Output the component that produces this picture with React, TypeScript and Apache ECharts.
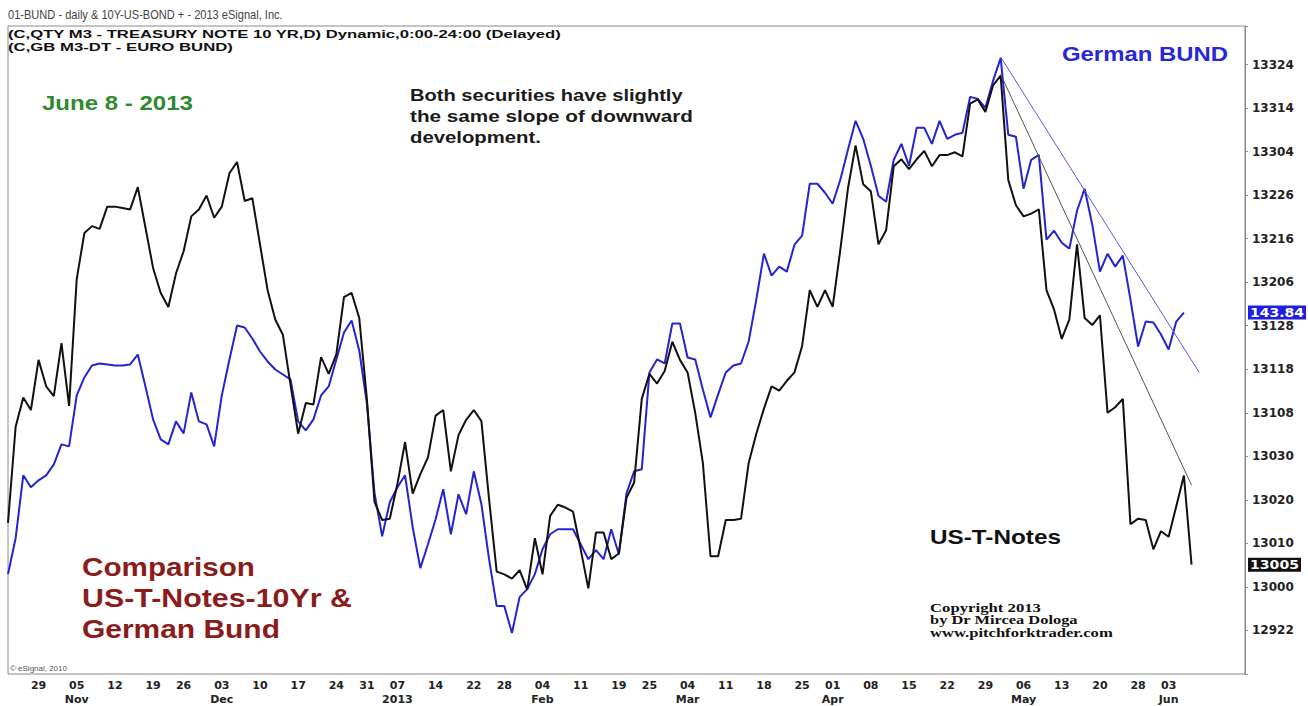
import React, { useEffect, useRef } from "react";
import * as echarts from "echarts";

// ---- categories: trading days (Oct 23 2012 .. Jun 17 2013) ----
const dates: string[] = [
  "2012-10-23","2012-10-24","2012-10-25","2012-10-26","2012-10-29","2012-10-30","2012-10-31",
  "2012-11-01","2012-11-02","2012-11-05","2012-11-06","2012-11-07","2012-11-08","2012-11-09",
  "2012-11-12","2012-11-13","2012-11-14","2012-11-15","2012-11-16","2012-11-19","2012-11-20",
  "2012-11-21","2012-11-23","2012-11-26","2012-11-27","2012-11-28","2012-11-29","2012-11-30",
  "2012-12-03","2012-12-04","2012-12-05","2012-12-06","2012-12-07","2012-12-10","2012-12-11",
  "2012-12-12","2012-12-13","2012-12-14","2012-12-17","2012-12-18","2012-12-19","2012-12-20",
  "2012-12-21","2012-12-24","2012-12-26","2012-12-27","2012-12-28","2012-12-31",
  "2013-01-02","2013-01-03","2013-01-04","2013-01-07","2013-01-08","2013-01-09","2013-01-10",
  "2013-01-11","2013-01-14","2013-01-15","2013-01-16","2013-01-17","2013-01-18","2013-01-22",
  "2013-01-23","2013-01-24","2013-01-25","2013-01-28","2013-01-29","2013-01-30","2013-01-31",
  "2013-02-01","2013-02-04","2013-02-05","2013-02-06","2013-02-07","2013-02-08","2013-02-11",
  "2013-02-12","2013-02-13","2013-02-14","2013-02-15","2013-02-19","2013-02-20","2013-02-21",
  "2013-02-22","2013-02-25","2013-02-26","2013-02-27","2013-02-28","2013-03-01","2013-03-04",
  "2013-03-05","2013-03-06","2013-03-07","2013-03-08","2013-03-11","2013-03-12","2013-03-13",
  "2013-03-14","2013-03-15","2013-03-18","2013-03-19","2013-03-20","2013-03-21","2013-03-22",
  "2013-03-25","2013-03-26","2013-03-27","2013-03-28","2013-04-01","2013-04-02","2013-04-03",
  "2013-04-04","2013-04-05","2013-04-08","2013-04-09","2013-04-10","2013-04-11","2013-04-12",
  "2013-04-15","2013-04-16","2013-04-17","2013-04-18","2013-04-19","2013-04-22","2013-04-23",
  "2013-04-24","2013-04-25","2013-04-26","2013-04-29","2013-04-30","2013-05-01","2013-05-02",
  "2013-05-03","2013-05-06","2013-05-07","2013-05-08","2013-05-09","2013-05-10","2013-05-13",
  "2013-05-14","2013-05-15","2013-05-16","2013-05-17","2013-05-20","2013-05-21","2013-05-22",
  "2013-05-23","2013-05-24","2013-05-28","2013-05-29","2013-05-30","2013-05-31","2013-06-03",
  "2013-06-04","2013-06-05","2013-06-06","2013-06-07","2013-06-10","2013-06-11","2013-06-12",
  "2013-06-13","2013-06-14","2013-06-17",
];

// week-start tick labels and month captions
const weekStarts: string[] = [
  "2012-10-29","2012-11-05","2012-11-12","2012-11-19","2012-11-26","2012-12-03","2012-12-10",
  "2012-12-17","2012-12-24","2012-12-31","2013-01-07","2013-01-14","2013-01-22","2013-01-28",
  "2013-02-04","2013-02-11","2013-02-19","2013-02-25","2013-03-04","2013-03-11","2013-03-18",
  "2013-03-25","2013-04-01","2013-04-08","2013-04-15","2013-04-22","2013-04-29","2013-05-06",
  "2013-05-13","2013-05-20","2013-05-28","2013-06-03",
];
const monthMarkDates: string[] = ["2012-11-05","2012-12-03","2013-01-07","2013-02-04","2013-03-04","2013-04-01","2013-05-06","2013-06-03"];
const monthMarkNames: string[] = ["Nov","Dec","2013","Feb","Mar","Apr","May","Jun"];

// ---- US 10Y T-Note futures (price, decimal points; axis shows 32nds) ----
const usTNotes: number[] = [
  130.46,131.15,131.36,131.27,131.63,131.44,131.37,131.75,131.30,132.21,
  132.54,132.59,132.57,132.73,132.73,132.72,132.71,132.87,132.58,132.29,
  132.11,132.01,132.25,132.41,132.66,132.71,132.81,132.65,132.73,132.97,
  133.05,132.77,132.79,132.46,132.13,131.92,131.81,131.45,131.10,131.32,
  131.31,131.65,131.53,131.67,132.08,132.11,131.93,131.35,130.61,130.48,
  130.49,130.74,131.04,130.67,130.81,130.93,131.23,131.27,130.83,131.09,
  131.20,131.27,131.19,130.63,130.11,130.09,130.06,130.12,129.98,130.35,
  130.09,130.51,130.59,130.57,130.54,130.27,129.99,130.39,130.39,130.20,
  130.24,130.64,130.75,131.35,131.53,131.46,131.55,131.76,131.63,131.54,
  131.25,130.89,130.22,130.22,130.48,130.48,130.49,130.89,131.10,131.28,
  131.44,131.41,131.48,131.54,131.73,132.13,132.01,132.13,132.01,132.42,
  132.86,133.17,132.89,132.84,132.46,132.56,133.02,133.07,133.00,133.07,
  133.13,133.02,133.10,133.10,133.12,133.09,133.47,133.50,133.41,133.60,
  133.67,132.92,132.74,132.66,132.68,132.71,132.13,131.99,131.78,131.92,
  132.46,131.93,131.88,131.95,131.25,131.29,131.35,130.45,130.49,130.48,
  130.27,130.40,130.36,130.58,130.80,130.16,
];

// ---- Euro Bund futures (price) ----
const germanBund: number[] = [
  141.22,141.58,142.21,142.09,142.16,142.21,142.32,142.52,142.50,143.01,
  143.19,143.31,143.33,143.32,143.31,143.31,143.32,143.42,143.10,142.77,
  142.57,142.52,142.75,142.63,143.04,142.75,142.72,142.50,143.01,143.37,
  143.71,143.69,143.58,143.45,143.35,143.27,143.22,143.17,142.75,142.66,
  142.77,143.01,143.10,143.37,143.64,143.76,143.46,142.93,142.03,141.60,
  141.94,142.09,142.21,141.69,141.28,141.52,141.77,142.07,141.62,142.02,
  141.82,142.25,141.92,141.37,140.90,140.90,140.63,140.99,141.07,141.22,
  141.47,141.62,141.67,141.67,141.67,141.52,141.37,141.46,141.37,141.67,
  141.42,142.03,142.25,142.27,143.24,143.37,143.33,143.73,143.73,143.39,
  143.37,143.07,142.79,143.02,143.24,143.31,143.33,143.55,143.97,144.43,
  144.21,144.30,144.25,144.52,144.61,145.13,145.13,145.04,144.93,145.17,
  145.47,145.76,145.58,145.31,145.01,144.95,145.37,145.53,145.31,145.69,
  145.69,145.53,145.76,145.58,145.62,145.64,146.00,145.98,145.89,146.16,
  146.39,145.62,145.60,145.08,145.37,145.42,144.57,144.66,144.54,144.48,
  144.86,145.08,144.72,144.25,144.43,144.30,144.41,143.97,143.50,143.75,
  143.74,143.62,143.47,143.75,143.84,
];

// trend lines: [date, value] start / end
const bundTrend: [string, number][] = [["2013-05-01", 146.40], ["2013-06-07", 143.24]];
const notesTrend: [string, number][] = [["2013-05-01", 133.68], ["2013-06-06", 130.73]];

// axis ranges
const NOTES_MIN = 129.375;
const NOTES_MAX = 134.0266;
const NOTES_STEP = 0.3125; // 10/32
const BUND_MIN = 140.22;
const BUND_MAX = 146.71;

const to32nds = (v: number) => {
  const w = Math.floor(v + 1e-9);
  let t = Math.round((v - w) * 32);
  let whole = w;
  if (t >= 32) { whole += 1; t -= 32; }
  return `${whole}${String(t).padStart(2, "0")}`;
};

const SANS = "'Liberation Sans', Arial, sans-serif";
const SERIF = "'Liberation Serif', 'Times New Roman', serif";

let measureCtx: CanvasRenderingContext2D | null = null;
function fitScale(text: string, font: string, width: number) {
  if (!measureCtx) {
    const c = document.createElement("canvas");
    measureCtx = c.getContext("2d");
  }
  if (!measureCtx) return 1;
  measureCtx.font = font;
  const m = measureCtx.measureText(text).width;
  return m > 0 ? width / m : 1;
}

type Note = { text: string; x: number; y: number; font: string; w: number; fill: string };
const notes: Note[] = [
  { text: "01-BUND - daily & 10Y-US-BOND + - 2013 eSignal, Inc.", x: 8, y: 15, font: `12px ${SANS}`, w: 275, fill: "#444" },
  { text: "(C,QTY M3 - TREASURY NOTE 10 YR,D) Dynamic,0:00-24:00 (Delayed)", x: 8, y: 34, font: `bold 11px ${SANS}`, w: 554, fill: "#111" },
  { text: "(C,GB M3-DT - EURO BUND)", x: 8, y: 47, font: `bold 11px ${SANS}`, w: 225, fill: "#111" },
  { text: "June 8 - 2013", x: 42, y: 103, font: `bold 21px ${SANS}`, w: 151, fill: "#2f8a2f" },
  { text: "Both securities have slightly", x: 410, y: 95, font: `bold 17px ${SANS}`, w: 273, fill: "#1a1a1a" },
  { text: "the same slope of downward", x: 410, y: 116, font: `bold 17px ${SANS}`, w: 283, fill: "#1a1a1a" },
  { text: "development.", x: 410, y: 137, font: `bold 17px ${SANS}`, w: 131, fill: "#1a1a1a" },
  { text: "German BUND", x: 1062, y: 54, font: `bold 21px ${SANS}`, w: 166, fill: "#2727d6" },
  { text: "Comparison", x: 82, y: 567, font: `bold 26px ${SANS}`, w: 173, fill: "#8b1c1c" },
  { text: "US-T-Notes-10Yr &", x: 82, y: 598, font: `bold 26px ${SANS}`, w: 270, fill: "#8b1c1c" },
  { text: "German Bund", x: 82, y: 629, font: `bold 26px ${SANS}`, w: 198, fill: "#8b1c1c" },
  { text: "US-T-Notes", x: 930, y: 537, font: `bold 21px ${SANS}`, w: 131, fill: "#111" },
  { text: "Copyright 2013", x: 930, y: 608, font: `bold 12px ${SERIF}`, w: 111, fill: "#111" },
  { text: "by Dr Mircea Dologa", x: 930, y: 620, font: `bold 12px ${SERIF}`, w: 148, fill: "#111" },
  { text: "www.pitchforktrader.com", x: 930, y: 633, font: `bold 12px ${SERIF}`, w: 183, fill: "#111" },
  { text: "\u00a9 eSignal, 2010", x: 10, y: 668, font: `8px ${SANS}`, w: 57, fill: "#555" },
];

function buildGraphic(yBund: number, yNotes: number) {
  const g: any[] = notes.map((n) => ({
    type: "text",
    x: n.x,
    y: n.y,
    scaleX: fitScale(n.text, n.font, n.w),
    z: 50,
    silent: true,
    style: { text: n.text, font: n.font, fill: n.fill, align: "left", verticalAlign: "middle" },
  }));
  const bundLabel = germanBund[germanBund.length - 1].toFixed(2);
  const notesLabel = to32nds(usTNotes[usTNotes.length - 1]);
  const tagFont = `bold 12px 'DejaVu Sans', sans-serif`;
  g.push({ type: "rect", z: 60, shape: { x: 1248, y: yBund - 7, width: 58, height: 14 }, style: { fill: "#1f1fe0" } });
  g.push({
    type: "text", z: 61, x: 1250, y: yBund, scaleX: fitScale(bundLabel, tagFont, 54),
    style: { text: bundLabel, font: tagFont, fill: "#fff", align: "left", verticalAlign: "middle" },
  });
  g.push({ type: "rect", z: 60, shape: { x: 1248, y: yNotes - 7, width: 53, height: 14 }, style: { fill: "#111" } });
  g.push({
    type: "text", z: 61, x: 1250, y: yNotes, scaleX: fitScale(notesLabel, tagFont, 49),
    style: { text: notesLabel, font: tagFont, fill: "#fff", align: "left", verticalAlign: "middle" },
  });
  return g;
}

export default function App() {
  const ref = useRef<HTMLDivElement>(null);
  useEffect(() => {
    const el = ref.current;
    if (!el) return;
    const chart = echarts.init(el, null, { renderer: "svg" });
    const weekSet = new Set(weekStarts);
    const monthMap: Record<string, string> = {};
    monthMarkDates.forEach((d, i) => (monthMap[d] = monthMarkNames[i]));

    const option: any = {
      animation: false,
      backgroundColor: "#ffffff",
      grid: {
        left: 8, right: 63, top: 26, bottom: 31,
        show: true, borderColor: "#8a8a8a", borderWidth: 1, backgroundColor: "#ffffff",
      },
      xAxis: {
        type: "category",
        data: dates,
        boundaryGap: false,
        axisLine: { show: false },
        axisTick: { show: false },
        splitLine: { show: false },
        axisLabel: {
          interval: (_i: number, v: string) => weekSet.has(v),
          formatter: (v: string) => {
            const d = v.slice(8);
            const m = monthMap[v];
            return m ? `${d}\n${m}` : d;
          },
          margin: 4,
          lineHeight: 14,
          fontFamily: "'DejaVu Sans', sans-serif",
          fontWeight: "bold",
          fontSize: 11,
          color: "#222",
        },
      },
      yAxis: [
        {
          type: "value",
          position: "right",
          min: NOTES_MIN,
          max: NOTES_MAX,
          interval: NOTES_STEP,
          splitLine: { show: false },
          axisLine: { show: true, lineStyle: { color: "#8a8a8a" } },
          axisTick: { show: true, length: 3, lineStyle: { color: "#8a8a8a" } },
          axisLabel: {
            margin: 7,
            fontFamily: "'DejaVu Sans', sans-serif",
            fontWeight: "bold",
            fontSize: 12,
            color: "#222",
            formatter: (v: number) =>
              v <= NOTES_MIN + 1e-6 || v >= NOTES_MAX - 0.01 ? "" : to32nds(v),
          },
        },
        {
          type: "value",
          show: false,
          min: BUND_MIN,
          max: BUND_MAX,
          splitLine: { show: false },
        },
      ],
      series: [
        {
          name: "German BUND",
          type: "line",
          yAxisIndex: 1,
          data: germanBund,
          symbol: "none",
          lineStyle: { color: "#2424d2", width: 2 },
          itemStyle: { color: "#2424d2" },
          markLine: {
            silent: true,
            symbol: ["none", "none"],
            label: { show: false },
            lineStyle: { color: "#5a5ae6", width: 1, type: "solid" },
            data: [[{ coord: bundTrend[0] }, { coord: bundTrend[1] }]],
          },
        },
        {
          name: "US-T-Notes",
          type: "line",
          yAxisIndex: 0,
          data: usTNotes,
          symbol: "none",
          lineStyle: { color: "#111111", width: 2 },
          itemStyle: { color: "#111111" },
          markLine: {
            silent: true,
            symbol: ["none", "none"],
            label: { show: false },
            lineStyle: { color: "#555548", width: 1, type: "solid" },
            data: [[{ coord: notesTrend[0] }, { coord: notesTrend[1] }]],
          },
        },
      ],
    };
    chart.setOption(option);
    const yB = chart.convertToPixel({ yAxisIndex: 1 } as any, germanBund[germanBund.length - 1]) as unknown as number;
    const yN = chart.convertToPixel({ yAxisIndex: 0 } as any, usTNotes[usTNotes.length - 1]) as unknown as number;
    chart.setOption({ graphic: buildGraphic(yB, yN) });
    return () => chart.dispose();
  }, []);
  return (
    <div
      ref={ref}
      style={{ position: "fixed", left: 0, top: 0, width: 1308, height: 706, background: "#fff" }}
    />
  );
}
